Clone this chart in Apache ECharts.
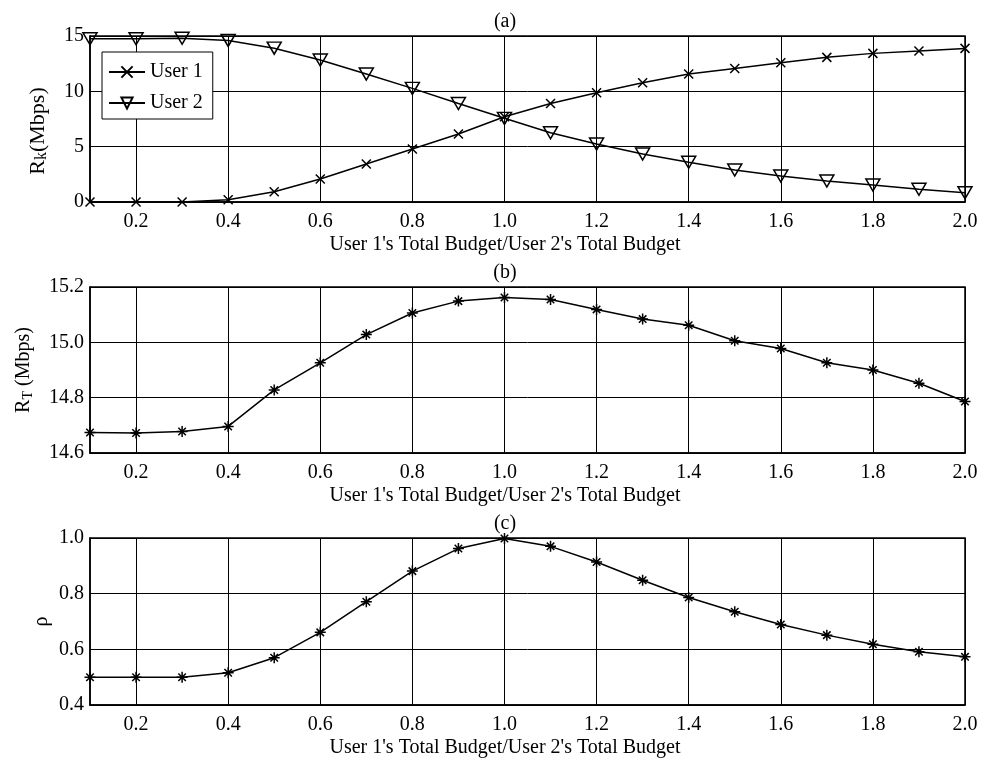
<!DOCTYPE html>
<html>
<head>
<meta charset="utf-8">
<script src="https://cdn.jsdelivr.net/npm/echarts@6/dist/echarts.min.js"></script>
<style>
html,body{margin:0;padding:0;background:#fff;}
#chart{width:981px;height:761px;}
</style>
</head>
<body>
<div id="chart"></div>
<script>
// ---- data ----
const ratio = [0.1,0.2,0.3,0.4,0.5,0.6,0.7,0.8,0.9,1.0,1.1,1.2,1.3,1.4,1.5,1.6,1.7,1.8,1.9,2.0];
const user1Rate = [0,0,0,0.2,0.93,2.08,3.43,4.79,6.14,7.7,8.9,9.87,10.78,11.56,12.07,12.58,13.07,13.43,13.64,13.88];
const user2Rate = [14.75,14.75,14.8,14.6,13.9,12.83,11.56,10.27,8.9,7.56,6.26,5.24,4.34,3.59,2.89,2.35,1.9,1.54,1.15,0.84];
const totalRate = [14.674,14.672,14.678,14.696,14.828,14.926,15.028,15.106,15.149,15.162,15.155,15.119,15.084,15.062,15.006,14.978,14.926,14.9,14.852,14.786];
const rho = [0.5,0.5,0.5,0.516,0.570,0.661,0.771,0.881,0.962,0.998,0.970,0.914,0.848,0.786,0.735,0.689,0.651,0.618,0.591,0.573];
const xTicks = [0.2,0.4,0.6,0.8,1.0,1.2,1.4,1.6,1.8,2.0];
const xTitle = "User 1's Total Budget/User 2's Total Budget";
const panelTitles = ['(a)','(b)','(c)'];

const FONT = 'Liberation Serif';
const chart = echarts.init(document.getElementById('chart'), null, {renderer:'canvas'});

const grids = [
  {left:90, top:36, width:875, height:166},
  {left:90, top:287, width:875, height:166},
  {left:90, top:538, width:875, height:167}
];

function pairs(ys){ return ratio.map((x,i)=>[x, ys[i]]); }

const symX = 'path://M0,0L10,10M10,0L0,10';
const symStar = 'path://M5,0L5,10M0,5L10,5M1.6,1.6L8.4,8.4M8.4,1.6L1.6,8.4';

function xAxisFor(i){
  return {
    type:'value', gridIndex:i, min:0.1, max:2.0,
    axisLine:{show:true, onZero:false, lineStyle:{color:'#000', width:1.5}},
    axisTick:{show:true, inside:true, length:5, customValues:xTicks, lineStyle:{color:'#000'}},
    axisLabel:{customValues:xTicks, color:'#000', fontFamily:FONT, fontSize:20, margin:10,
      formatter:v=>v.toFixed(1)},
    splitLine:{show:true, lineStyle:{color:'#000', width:1}}
  };
}
function yAxisFor(i, min, max, interval, dec, name, gap, nameSize, namePad, moveOverlap){
  return {
    type:'value', gridIndex:i, min:min, max:max, interval:interval,
    name:name, nameLocation:'middle', nameGap:gap, nameMoveOverlap:moveOverlap,
    nameTextStyle:{color:'#000', fontFamily:FONT, fontSize:nameSize, padding:namePad,
      rich:{sub:{fontFamily:FONT, fontSize:nameSize-6, color:'#000', verticalAlign:'bottom', padding:[8,0,0,0]},
            n:{fontFamily:FONT, fontSize:nameSize, color:'#000'}}},
    axisLine:{show:true, lineStyle:{color:'#000', width:1.5}},
    axisTick:{show:true, inside:true, length:5, lineStyle:{color:'#000'}},
    axisLabel:{color:'#000', fontFamily:FONT, fontSize:20, margin:6, formatter:v=>v.toFixed(dec)},
    splitLine:{show:true, lineStyle:{color:'#000', width:1}}
  };
}

const titleItems = [];
panelTitles.forEach((t,i)=>{
  titleItems.push({text:t, left:500, top:grids[i].top-29, textAlign:'center',
    textStyle:{fontFamily:FONT, fontSize:20, fontWeight:'normal', color:'#000'}});
  titleItems.push({text:xTitle, left:500, top:grids[i].top+grids[i].height+28, textAlign:'center',
    textStyle:{fontFamily:FONT, fontSize:20, fontWeight:'normal', color:'#000'}});
});

const option = {
  animation:false,
  backgroundColor:'#fff',
  title:titleItems,
  grid:grids.map(g=>Object.assign({show:true, borderColor:'#000', borderWidth:1.5, containLabel:false}, g)),
  legend:{
    data:['User 1','User 2'], orient:'vertical', left:102, top:52,
    borderColor:'#000', borderWidth:1, backgroundColor:'#fff',
    padding:[10,10,6,6], itemGap:11, itemWidth:36, itemHeight:14,
    textStyle:{fontFamily:FONT, fontSize:20, color:'#000'}
  },
  xAxis:[xAxisFor(0), xAxisFor(1), xAxisFor(2)],
  yAxis:[
    yAxisFor(0, 0, 15, 5, 0, '{n|R}{sub|k}{n|(Mbps)}', 40, 22, [0,24,0,0], true),
    yAxisFor(1, 14.6, 15.2, 0.2, 1, '{n|R}{sub|T}{n| (Mbps)}', 55, 20, 0, true),
    yAxisFor(2, 0.4, 1.0, 0.2, 1, 'ρ', 38, 20, 0, false)
  ],
  series:[
    {name:'User 1', type:'line', xAxisIndex:0, yAxisIndex:0, data:pairs(user1Rate),
      symbol:symX, symbolSize:9, showAllSymbol:true,
      lineStyle:{color:'#000', width:1.5},
      itemStyle:{color:'rgba(0,0,0,0)', borderColor:'#000', borderWidth:1.5}},
    {name:'User 2', type:'line', xAxisIndex:0, yAxisIndex:0, data:pairs(user2Rate),
      symbol:'triangle', symbolRotate:180, symbolSize:[14,12], showAllSymbol:true,
      lineStyle:{color:'#000', width:1.5},
      itemStyle:{color:'rgba(0,0,0,0)', borderColor:'#000', borderWidth:1.5}},
    {name:'RT', type:'line', xAxisIndex:1, yAxisIndex:1, data:pairs(totalRate),
      symbol:symStar, symbolSize:11, showAllSymbol:true,
      lineStyle:{color:'#000', width:1.5},
      itemStyle:{color:'rgba(0,0,0,0)', borderColor:'#000', borderWidth:1.5}},
    {name:'rho', type:'line', xAxisIndex:2, yAxisIndex:2, data:pairs(rho),
      symbol:symStar, symbolSize:11, showAllSymbol:true,
      lineStyle:{color:'#000', width:1.5},
      itemStyle:{color:'rgba(0,0,0,0)', borderColor:'#000', borderWidth:1.5}}
  ]
};
chart.setOption(option);
</script>
</body>
</html>
